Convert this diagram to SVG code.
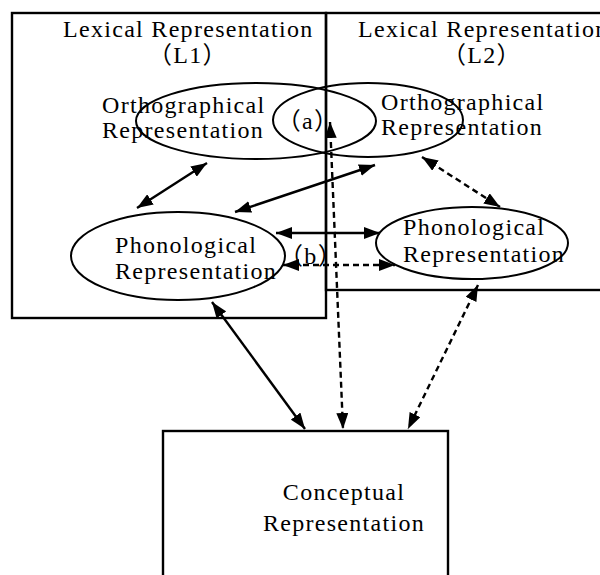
<svg xmlns="http://www.w3.org/2000/svg" width="600" height="575" viewBox="0 0 600 575">
<style>
text{font-family:"Liberation Serif","Noto Sans CJK SC",serif;font-size:24px;letter-spacing:1.3px;fill:#000}
.box{fill:none;stroke:#000;stroke-width:2.4}
.ell{fill:none;stroke:#000;stroke-width:2}
.c{fill:none;stroke:#000;stroke-width:2.4}
.d{stroke-dasharray:6 4}
.m{text-anchor:middle}
</style>
<defs>
<marker id="ah" viewBox="0 0 16 12" refX="16" refY="6" markerWidth="16" markerHeight="12" markerUnits="userSpaceOnUse" orient="auto-start-reverse">
<path d="M0,0 L16,6 L0,12 z" fill="#000"/>
</marker>
</defs>
<rect width="600" height="575" fill="#fff"/>
<g id="L1">
<rect class="box" x="12" y="13" width="314" height="305"/>
<text x="63" y="37">Lexical Representation</text>
<text class="m" x="188" y="63">（L1）</text>
</g>
<g id="L2">
<rect class="box" x="326" y="13" width="300" height="277"/>
<text x="358" y="37">Lexical Representation</text>
<text class="m" x="482" y="63">（L2）</text>
</g>
<g id="ortho1">
<ellipse class="ell" cx="256" cy="121" rx="120" ry="38"/>
<text x="102" y="113">Orthographical</text>
<text x="102" y="138">Representation</text>
</g>
<g id="ortho2">
<ellipse class="ell" cx="368" cy="120" rx="95" ry="37"/>
<text x="381" y="110">Orthographical</text>
<text x="381" y="135">Representation</text>
</g>
<g id="labelA">
<text class="m" x="308" y="129">（a）</text>
</g>
<g id="phono1">
<ellipse class="ell" cx="178" cy="256" rx="107" ry="44"/>
<text x="115" y="253">Phonological</text>
<text x="115" y="279">Representation</text>
</g>
<g id="labelB">
<text class="m" x="311" y="264">（b）</text>
</g>
<g id="phono2">
<ellipse class="ell" cx="472" cy="243" rx="96" ry="36"/>
<text x="403" y="235">Phonological</text>
<text x="403" y="262">Representation</text>
</g>
<g id="concept">
<rect class="box" x="163" y="431" width="285" height="160"/>
<text class="m" x="344" y="500">Conceptual</text>
<text class="m" x="344" y="531">Representation</text>
</g>
<g id="connectors">
<line class="c" x1="137" y1="208" x2="207" y2="163" marker-start="url(#ah)" marker-end="url(#ah)"/>
<line class="c" x1="235" y1="212" x2="375" y2="165" marker-start="url(#ah)" marker-end="url(#ah)"/>
<line class="c" x1="276" y1="233" x2="380" y2="233" marker-start="url(#ah)" marker-end="url(#ah)"/>
<line class="c d" x1="283" y1="265" x2="395" y2="265" marker-start="url(#ah)" marker-end="url(#ah)"/>
<line class="c d" x1="422" y1="157" x2="500" y2="207" marker-start="url(#ah)" marker-end="url(#ah)"/>
<line class="c d" x1="330" y1="122" x2="343" y2="429" marker-start="url(#ah)" marker-end="url(#ah)"/>
<line class="c" x1="212" y1="302" x2="305" y2="429" marker-start="url(#ah)" marker-end="url(#ah)"/>
<line class="c d" x1="478" y1="285" x2="408" y2="429" marker-start="url(#ah)" marker-end="url(#ah)"/>
</g>
</svg>
